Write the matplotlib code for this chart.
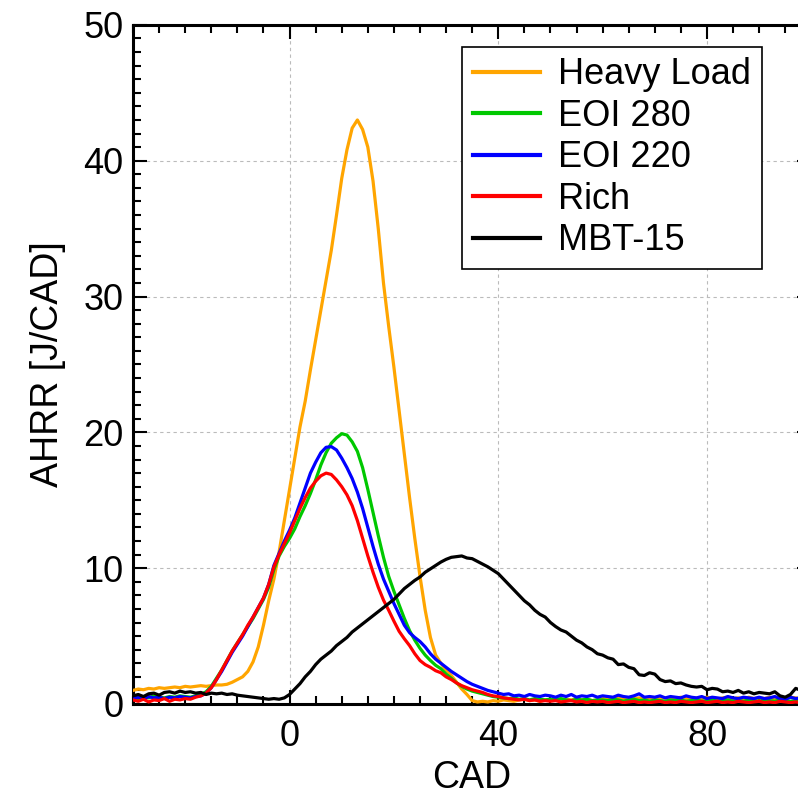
import numpy as np
import matplotlib
matplotlib.use("Agg")
import matplotlib.pyplot as plt
from matplotlib.ticker import MultipleLocator

# crank angle, 1 CAD steps
cad = np.arange(-30, 99)

heavy_load = [
    1.0, 1.1, 1.05, 1.15, 1.1, 1.2, 1.15, 1.2, 1.25, 1.2,
    1.3, 1.25, 1.3, 1.35, 1.3, 1.35, 1.4, 1.4, 1.45, 1.6,
    1.8, 2.0, 2.4, 3.1, 4.2, 5.8, 7.6, 9.2, 11.2, 13.5,
    15.8, 18.1, 20.4, 22.3, 24.6, 26.8, 29.0, 31.2, 33.4, 36.0,
    38.7, 40.8, 42.4, 43.0, 42.3, 41.0, 38.5, 35.0, 31.0, 27.8,
    24.8, 21.6, 18.4, 15.2, 12.2, 9.4, 6.9, 4.9, 3.6, 3.0,
    2.5, 2.1, 1.6, 1.1, 0.7, 0.25, 0.15, 0.2, 0.15, 0.25,
    0.2, 0.3, 0.25, 0.2, 0.3, 0.35, 0.25, 0.3, 0.2, 0.3,
    0.35, 0.3, 0.25, 0.35, 0.3, 0.4, 0.3, 0.35, 0.25, 0.3,
    0.4, 0.35, 0.3, 0.45, 0.35, 0.3, 0.4, 0.45, 0.35, 0.4,
    0.3, 0.4, 0.45, 0.35, 0.4, 0.5, 0.4, 0.35, 0.45, 0.4,
    0.5, 0.4, 0.35, 0.45, 0.5, 0.4, 0.45, 0.35, 0.5, 0.4,
    0.45, 0.4, 0.5, 0.35, 0.45, 0.4, 0.5, 0.45, 0.4,
]

eoi_280 = [
    0.5, 0.4, 0.55, 0.45, 0.6, 0.5, 0.45, 0.55, 0.5, 0.6,
    0.55, 0.5, 0.6, 0.7, 0.9, 1.3, 1.9, 2.5, 3.2, 3.9,
    4.5, 5.1, 5.7, 6.3, 7.0, 7.7, 8.6, 9.9, 10.9, 11.6,
    12.2, 12.9, 13.8, 14.6, 15.5, 16.5, 17.6, 18.5, 19.2, 19.6,
    19.9, 19.8, 19.3, 18.6, 17.4, 15.8, 14.1, 12.4, 10.8, 9.4,
    8.3, 7.3, 6.3, 5.4, 4.7, 4.1, 3.6, 3.2, 2.85, 2.6,
    2.2, 1.9, 1.55, 1.3, 1.1, 0.95, 0.85, 0.75, 0.65, 0.55,
    0.5, 0.45, 0.4, 0.45, 0.35, 0.4, 0.3, 0.4, 0.35, 0.3,
    0.35, 0.3, 0.4, 0.3, 0.25, 0.35, 0.3, 0.35, 0.25, 0.3,
    0.3, 0.25, 0.35, 0.3, 0.2, 0.3, 0.35, 0.25, 0.3, 0.2,
    0.3, 0.25, 0.2, 0.3, 0.25, 0.3, 0.2, 0.25, 0.3, 0.2,
    0.25, 0.3, 0.2, 0.25, 0.3, 0.2, 0.25, 0.2, 0.3, 0.25,
    0.2, 0.3, 0.25, 0.2, 0.3, 0.25, 0.2, 0.25, 0.3,
]

eoi_220 = [
    0.4, 0.5, 0.35, 0.55, 0.45, 0.5, 0.4, 0.5, 0.45, 0.55,
    0.5, 0.45, 0.55, 0.6, 0.8, 1.2, 1.8, 2.4, 3.1, 3.8,
    4.4, 5.0, 5.7, 6.4, 7.1, 7.8, 8.8, 10.2, 11.1, 12.0,
    12.8, 13.7, 14.8, 15.9, 17.0, 17.8, 18.5, 18.9, 18.95, 18.7,
    18.1, 17.4, 16.6, 15.6, 14.4, 13.0, 11.6, 10.3, 9.2, 8.3,
    7.4, 6.6, 5.8, 5.25, 4.9, 4.6, 4.2, 3.7, 3.3, 3.0,
    2.7, 2.4, 2.15, 1.9, 1.65, 1.45, 1.3, 1.15, 1.0, 0.9,
    0.8, 0.7, 0.75, 0.6, 0.65, 0.55, 0.7, 0.6, 0.55, 0.65,
    0.6, 0.5, 0.65, 0.55, 0.7, 0.5, 0.6, 0.55, 0.65, 0.5,
    0.6, 0.55, 0.5, 0.65, 0.55, 0.5, 0.6, 0.75, 0.5, 0.55,
    0.5, 0.6, 0.45, 0.55, 0.5, 0.45, 0.6, 0.5, 0.45, 0.55,
    0.4, 0.5, 0.45, 0.4, 0.55, 0.45, 0.4, 0.5, 0.45, 0.4,
    0.5, 0.4, 0.45, 0.55, 0.4, 0.35, 0.5, 0.4, 0.45,
]

rich = [
    0.3, 0.2, 0.35, 0.15, 0.3, 0.25, 0.4, 0.2, 0.35, 0.3,
    0.4, 0.35, 0.5, 0.6, 0.8, 1.2, 1.8, 2.5, 3.2, 3.9,
    4.5, 5.1, 5.8, 6.4, 7.1, 7.8, 8.8, 10.1, 11.0, 11.8,
    12.6, 13.5, 14.4, 15.2, 15.9, 16.4, 16.8, 17.0, 16.9, 16.5,
    16.0, 15.4, 14.6, 13.5, 12.2, 10.9, 9.7, 8.6, 7.65, 6.9,
    6.1, 5.35, 4.8, 4.3, 3.7, 3.2, 2.9, 2.7, 2.45, 2.3,
    2.0, 1.8, 1.55, 1.35, 1.2, 1.05, 0.95, 0.85, 0.7, 0.6,
    0.55, 0.45, 0.4, 0.35, 0.3, 0.35, 0.25, 0.3, 0.2, 0.25,
    0.2, 0.25, 0.15, 0.2, 0.25, 0.15, 0.2, 0.1, 0.2, 0.15,
    0.2, 0.1, 0.15, 0.2, 0.1, 0.15, 0.2, 0.1, 0.15, 0.1,
    0.15, 0.2, 0.1, 0.15, 0.1, 0.2, 0.15, 0.1, 0.15, 0.2,
    0.1, 0.15, 0.2, 0.1, 0.15, 0.1, 0.2, 0.15, 0.1, 0.15,
    0.2, 0.1, 0.15, 0.1, 0.2, 0.15, 0.1, 0.15, 0.1,
]

mbt_15 = [
    0.6, 0.7, 0.55, 0.75, 0.8, 0.65, 0.85, 0.9, 0.8, 0.95,
    0.85, 0.9, 0.8, 0.85, 0.7, 0.8, 0.75, 0.8, 0.7, 0.75,
    0.65, 0.6, 0.55, 0.5, 0.45, 0.4, 0.35, 0.4, 0.35, 0.45,
    0.7, 1.1, 1.5, 2.0, 2.4, 2.9, 3.3, 3.6, 3.9, 4.3,
    4.6, 4.9, 5.3, 5.6, 5.9, 6.2, 6.5, 6.8, 7.1, 7.4,
    7.7, 8.1, 8.5, 8.8, 9.1, 9.35, 9.7, 9.95, 10.2, 10.45,
    10.65, 10.8, 10.85, 10.9, 10.75, 10.7, 10.5, 10.3, 10.1, 9.85,
    9.6, 9.2, 8.8, 8.4, 8.0, 7.6, 7.3, 6.9, 6.6, 6.4,
    6.0, 5.7, 5.45, 5.3, 5.0, 4.7, 4.5, 4.2, 4.0, 3.7,
    3.6, 3.4, 3.3, 2.9, 2.95, 2.7, 2.6, 2.15, 2.1, 2.3,
    2.2, 1.8, 1.65, 1.7, 1.5, 1.55, 1.4, 1.3, 1.25, 1.3,
    1.05, 1.15, 1.1, 0.9, 0.95, 0.85, 1.0, 0.8, 0.9, 0.75,
    0.85, 0.8, 0.75, 0.9, 0.6, 0.5, 0.7, 1.15, 1.0,
]

series_labels = ["Heavy Load", "EOI 280", "EOI 220", "Rich", "MBT-15"]
series_colors = ["#FFA500", "#00C800", "#0000FF", "#FF0000", "#000000"]

plt.rcParams['font.family'] = ['Liberation Sans', 'DejaVu Sans']
plt.rcParams['font.size'] = 26

fig = plt.figure(figsize=(7.98, 7.98), dpi=100)
fig.patch.set_facecolor('white')
ax = fig.add_axes([0.1667, 0.1178, 0.850, 0.851])

for ys, lab, col in zip([heavy_load, eoi_280, eoi_220, rich, mbt_15], series_labels, series_colors):
    ax.plot(cad, ys, color=col, lw=2.3, label=lab, zorder=3)

ax.set_xlim(-30, 100)
ax.set_ylim(0, 50)
ax.xaxis.set_major_locator(MultipleLocator(40))
ax.xaxis.set_minor_locator(MultipleLocator(5))
ax.yaxis.set_major_locator(MultipleLocator(10))
ax.yaxis.set_minor_locator(MultipleLocator(1))

ax.grid(True, which='major', color='#BBBBBB', linestyle=(0, (3, 3)), linewidth=0.8, zorder=0)

for sp in ax.spines.values():
    sp.set_linewidth(2.2)

ax.tick_params(which='both', direction='in', top=True, right=True, width=1.5, colors='black')
ax.tick_params(which='major', length=10, labelsize=26)
ax.tick_params(axis='x', which='major', pad=11)
ax.tick_params(axis='y', which='major', pad=7)
ax.tick_params(which='minor', length=5.5)

ax.set_xlabel("CAD", fontsize=27, labelpad=4)
ax.set_ylabel("AHRR [J/CAD]", fontsize=27, labelpad=12)

leg = ax.legend(loc='upper right', bbox_to_anchor=(0.927, 0.968), borderaxespad=0,
                fancybox=False, framealpha=1, edgecolor='black', fontsize=26,
                handlelength=1.85, handletextpad=0.5, labelspacing=0.18, borderpad=0.3)
leg.get_frame().set_linewidth(1.2)
for ln in leg.get_lines():
    ln.set_linewidth(3)

fig.savefig("out.png", dpi=100, facecolor='white')
